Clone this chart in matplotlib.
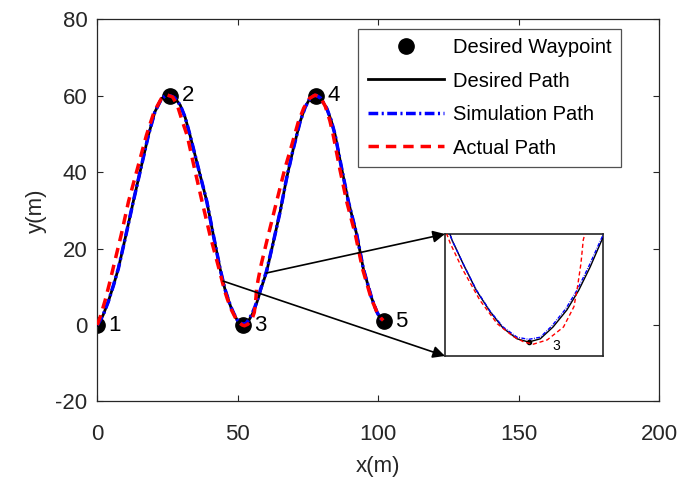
import matplotlib
matplotlib.use("Agg")
import matplotlib.pyplot as plt

plt.rcParams['font.family'] = ['Liberation Sans', 'DejaVu Sans']
plt.rcParams['axes.unicode_minus'] = False

# ---- data ----
wp_x = [0, 26, 52, 78, 102]
wp_y = [0, 60, 0, 60, 1]
wp_labels = ['1', '2', '3', '4', '5']

desired_x = [0, 2, 3.9, 5.8, 7.5, 10.2, 12.8, 15.5, 18.2, 20.5, 22.9, 24.5, 26, 27.5, 29.5,
             31.3, 33.0, 36.0, 39.0, 41.3, 43.7, 45.4, 46.4, 47.5, 48.7, 49.8, 51.0, 52.0,
             53.0, 54.1, 55.3, 56.3, 57.3, 58.3, 60.3, 62.7, 65.1, 67.4, 69.8, 72.2, 74.0,
             75.6, 77.0, 78.0, 79.5, 81.7, 83.3, 84.7, 87.0, 89.4, 92.4, 94.7, 97.7, 99.5,
             100.7, 102]
desired_y = [0, 2.5, 6.1, 10.5, 14.8, 23.6, 32.3, 41.0, 49.7, 55.8, 59.3, 60.1, 60, 59.5, 57.6,
             54.3, 49.7, 41.0, 32.3, 23.6, 14.8, 9.5, 7.2, 4.8, 2.8, 1.3, 0.3, 0.0,
             0.3, 1.4, 3.0, 4.8, 7.0, 9.5, 14.0, 21.8, 29.7, 38.4, 46.2, 53.2, 57.0,
             59.2, 60.0, 60.1, 59.4, 56.7, 53.5, 49.7, 41.0, 32.3, 23.6, 14.8, 7.0, 3.5,
             1.8, 1]

sim_x = [0, 2, 3.9, 5.8, 7.5, 10.2, 12.8, 15.5, 18.2, 20.5, 22.9, 24.5, 26, 27.5, 29.5,
         31.3, 33.0, 36.0, 39.0, 41.3, 43.7, 45.4, 46.4, 47.5, 48.7, 49.8, 51.0, 52.0,
         53.0, 54.0, 55.2, 56.2, 57.2, 58.2, 60.2, 62.7, 65.1, 67.4, 69.8, 72.2, 74.0,
         75.6, 77.0, 78.0, 79.5, 81.7, 83.3, 84.7, 87.0, 89.4, 92.4, 94.7, 97.7, 99.5,
         100.7, 102]
sim_y = [0, 2.5, 6.1, 10.5, 14.8, 23.6, 32.3, 41.0, 49.7, 55.8, 59.3, 60.1, 60, 59.5, 57.6,
         54.3, 49.7, 41.0, 32.3, 23.6, 14.8, 9.5, 7.2, 4.85, 2.85, 1.4, 0.45, 0.25,
         0.45, 1.5, 3.1, 4.9, 7.1, 9.5, 14.0, 21.8, 29.7, 38.4, 46.2, 53.2, 57.0,
         59.2, 60.0, 60.1, 59.4, 56.7, 53.5, 49.7, 41.0, 32.3, 23.6, 14.8, 7.0, 3.5,
         1.8, 1]

actual_x = [0, 1.2, 2.8, 4.3, 6.0, 8.5, 11.1, 14.3, 17.5, 20.2, 22.8, 25.0, 26.8, 28.5,
            30.2, 32.0, 34.6, 37.3, 40.1, 43.3, 45.25, 46.3, 47.8, 49.3, 50.7, 51.6, 52.4,
            53.6, 55.0, 55.9, 56.2, 56.5, 56.7, 57.3, 58.4, 60.3, 63.9, 66.8, 69.0, 71.5,
            73.5, 75.5, 77.5, 79.5, 81.2, 82.8, 84.0, 86.3, 88.8, 91.9, 94.4, 97.5, 99.6,
            101.0, 101.8]
actual_y = [0, 2.5, 6.5, 10.8, 16.0, 23.6, 32.3, 41.0, 49.7, 55.8, 59.3, 60.2, 59.7, 57.5,
            53.5, 49.6, 41.0, 32.3, 23.6, 14.8, 9.2, 6.8, 3.9, 1.7, 0.5, 0.0, -0.2,
            0.2, 1.4, 3.3, 5.1, 7.3, 9.5, 12.0, 16.0, 21.8, 32.5, 41.0, 46.5, 53.0,
            56.8, 59.3, 60.2, 59.6, 57.2, 53.5, 49.7, 41.0, 32.3, 23.6, 14.8, 7.0, 3.3,
            1.8, 1.2]

inset_xlim = (44.8, 58.4)
inset_ylim = (-1.3, 10.06)
arrow_from = [(60.1, 13.6), (44.8, 11.5)]

# ---- figure ----
fig = plt.figure(figsize=(6.81, 4.83), dpi=100)
ax = fig.add_axes([0.1429, 0.1689, 0.8248, 0.7909])

axc = '0.15'
sim_ls = (0, (2.8, 1.0, 0.6, 1.0))
act_ls = (0, (3.0, 2.0))
ax.plot(wp_x, wp_y, 'o', color='k', markersize=11, label='Desired Waypoint', zorder=2)
ax.plot(desired_x, desired_y, '-', color='k', lw=2.0, label='Desired Path', zorder=3)
ax.plot(sim_x, sim_y, linestyle=sim_ls, color='#0000ff', lw=2.5, label='Simulation Path', zorder=4)
ax.plot(actual_x, actual_y, linestyle=act_ls, color='#ff0000', lw=2.5, label='Actual Path', zorder=5)

for x, y, t in zip(wp_x, wp_y, wp_labels):
    ax.annotate(t, (x, y), xytext=(8, 0), textcoords='offset points',
                ha='left', va='center', fontsize=16, color='k')

ax.set_xlim(0, 200)
ax.set_ylim(-20, 80)
ax.set_xticks([0, 50, 100, 150, 200])
ax.set_yticks([-20, 0, 20, 40, 60, 80])
ax.tick_params(direction='in', length=4, width=0.8, colors=axc, labelsize=16,
               top=True, right=True, labelcolor=axc)
ax.tick_params(axis='x', pad=16)
ax.tick_params(axis='y', pad=7)
for s in ax.spines.values():
    s.set_color(axc)
    s.set_linewidth(0.9)
ax.set_xlabel('x(m)', fontsize=16, color=axc, labelpad=8)
ax.set_ylabel('y(m)', fontsize=16, color=axc, labelpad=6)

leg = ax.legend(loc='upper right', bbox_to_anchor=(0.932, 0.975), fontsize=14.5,
                frameon=True, fancybox=False, edgecolor=axc, handlelength=3.8,
                handletextpad=0.45, labelspacing=0.72, borderpad=0.45, borderaxespad=0)
leg.get_frame().set_linewidth(0.9)

# ---- inset ----
axins = fig.add_axes([445 / 681, 1 - 356 / 483, 158 / 681, 122 / 483])
axins.plot(wp_x, wp_y, 'o', color='k', markersize=3, zorder=2)
axins.plot(desired_x, desired_y, '-', color='k', lw=1.0, zorder=3)
axins.plot(sim_x, sim_y, linestyle=sim_ls, color='#0000ff', lw=1.0, zorder=4)
axins.plot(actual_x, actual_y, linestyle=act_ls, color='#ff0000', lw=1.0, zorder=5)
axins.annotate(wp_labels[2], (wp_x[2], wp_y[2]), xytext=(17, -3), textcoords='offset points',
               ha='left', va='center', fontsize=10, color='k')
axins.set_xlim(*inset_xlim)
axins.set_ylim(*inset_ylim)
axins.set_xticks([])
axins.set_yticks([])
for s in axins.spines.values():
    s.set_color(axc)
    s.set_linewidth(1.2)

# arrows from main curve to inset corners
for (xs, ys), corner in zip(arrow_from, [(0, 1), (0, 0)]):
    ax.annotate('', xy=corner, xycoords=axins.transAxes, xytext=(xs, ys), textcoords='data',
                arrowprops=dict(arrowstyle='-|>', color='k', lw=1.2, mutation_scale=18,
                                shrinkA=0, shrinkB=0), zorder=6)

fig.savefig('out.png', dpi=100)
